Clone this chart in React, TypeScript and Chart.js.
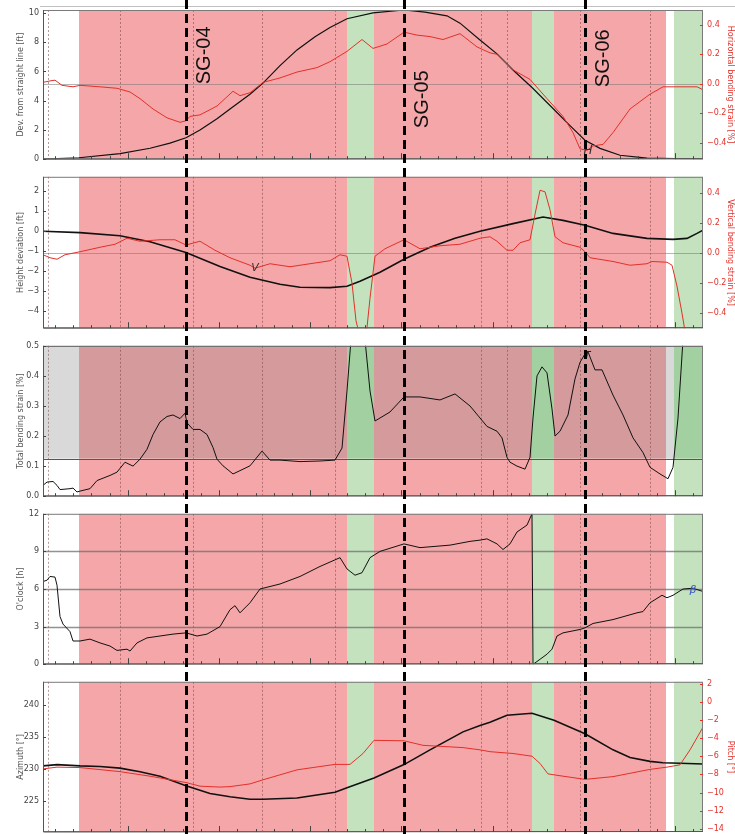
import React, { useEffect, useRef } from "react";
import { Chart, registerables } from "chart.js";

Chart.register(...registerables);
Chart.defaults.font.family = "'DejaVu Sans', sans-serif";

// ---------- shared along-pipe layout (relative chainage units) ----------
const X_MIN = 43;
const X_MAX = 703;
const zoneEdges = [43, 79, 347, 374, 532, 554, 666, 674, 703];
const zoneKinds = ["none", "red", "green", "red", "green", "red", "none", "green"];
const jointLines = [48, 120, 193, 262, 335, 481, 507, 580, 650];
const sgPositions = [186, 404, 585];
const sgLabels = ["SG-04", "SG-05", "SG-06"];
const sgLabelLevels = [7.1, 4.1, 6.9];
const xTickStart = 55;
const xTickStep = 18.23;
const xTickCount = 36;

// ---------- Panel 1: deviation from straight line / horizontal bending strain ----------
const devX = [43, 79, 120, 150, 170, 186, 200, 217, 230, 250, 263, 280, 297, 315, 330, 347, 373, 404, 425, 447, 460, 480, 497, 513, 532, 554, 570, 585, 600, 620, 647, 703];
const devY = [0, 0.1, 0.38, 0.75, 1.1, 1.47, 2.0, 2.76, 3.43, 4.44, 5.2, 6.4, 7.47, 8.37, 9.0, 9.6, 10.0, 10.2, 10.05, 9.8, 9.3, 8.15, 7.2, 6.1, 4.9, 3.4, 2.3, 1.3, 0.74, 0.27, 0.07, 0];
const hStrainX = [43, 50, 55, 62, 73, 80, 100, 117, 130, 140, 153, 167, 180, 186, 190, 200, 217, 233, 240, 250, 263, 280, 297, 317, 330, 347, 362, 373, 387, 404, 417, 430, 443, 460, 477, 490, 497, 513, 530, 547, 563, 573, 580, 587, 593, 603, 613, 630, 640, 650, 663, 680, 697, 703];
const hStrainY = [0.01, 0.02, 0.025, -0.01, -0.02, -0.01, -0.02, -0.03, -0.055, -0.1, -0.17, -0.23, -0.26, -0.25, -0.22, -0.21, -0.15, -0.05, -0.08, -0.06, 0.01, 0.04, 0.08, 0.11, 0.15, 0.22, 0.3, 0.24, 0.27, 0.35, 0.33, 0.32, 0.3, 0.34, 0.25, 0.21, 0.2, 0.095, 0.03, -0.1, -0.22, -0.33, -0.44, -0.45, -0.42, -0.41, -0.33, -0.17, -0.12, -0.07, -0.02, -0.02, -0.02, -0.04];
const p1LeftTicks = [0, 2, 4, 6, 8, 10];
const p1RightTicks = [-0.4, -0.2, 0, 0.2, 0.4];

// ---------- Panel 2: height deviation / vertical bending strain ----------
const hgtX = [43, 80, 120, 150, 186, 220, 250, 280, 300, 330, 347, 360, 380, 404, 430, 455, 480, 513, 543, 563, 585, 613, 647, 673, 687, 697, 703];
const hgtY = [0, -0.07, -0.23, -0.53, -1.07, -1.77, -2.3, -2.65, -2.8, -2.82, -2.75, -2.5, -2.05, -1.4, -0.8, -0.35, 0.0, 0.38, 0.71, 0.54, 0.3, -0.11, -0.36, -0.41, -0.36, -0.11, 0.05];
const vStrainX = [43, 50, 57, 65, 80, 100, 115, 127, 140, 160, 175, 186, 200, 215, 230, 250, 255, 270, 290, 310, 330, 340, 347, 352, 356, 360, 366, 370, 375, 385, 404, 420, 440, 460, 480, 490, 497, 507, 513, 520, 530, 535, 540, 545, 550, 555, 563, 580, 585, 590, 613, 630, 647, 652, 667, 672, 677, 682, 686];
const vStrainY = [-0.01, -0.03, -0.04, -0.01, 0.01, 0.04, 0.06, 0.1, 0.08, 0.09, 0.09, 0.055, 0.08, 0.02, -0.03, -0.08, -0.1, -0.07, -0.09, -0.07, -0.05, -0.01, -0.02, -0.2, -0.45, -0.56, -0.56, -0.3, -0.02, 0.03, 0.09, 0.03, 0.05, 0.06, 0.1, 0.11, 0.08, 0.02, 0.02, 0.07, 0.09, 0.26, 0.42, 0.41, 0.29, 0.11, 0.07, 0.04, 0.01, -0.03, -0.055, -0.08, -0.07, -0.055, -0.06, -0.08, -0.22, -0.4, -0.56];
const p2LeftTicks = [-4, -3, -2, -1, 0, 1, 2];
const p2RightTicks = [-0.4, -0.2, 0, 0.2, 0.4];

// ---------- Panel 3: total bending strain ----------
const totX = [43, 47, 53, 57, 60, 70, 73, 77, 80, 90, 97, 110, 117, 125, 133, 140, 147, 153, 160, 167, 173, 180, 185, 187, 193, 200, 207, 213, 217, 223, 233, 240, 250, 262, 270, 280, 300, 320, 335, 342, 347, 351, 365, 370, 375, 390, 404, 420, 440, 455, 470, 480, 487, 497, 502, 507, 510, 517, 525, 530, 533, 537, 542, 547, 552, 555, 560, 568, 575, 580, 585, 588, 595, 602, 613, 623, 633, 643, 650, 660, 668, 673, 678, 683];
const totY = [0.036, 0.047, 0.049, 0.036, 0.022, 0.025, 0.027, 0.014, 0.017, 0.025, 0.052, 0.069, 0.08, 0.113, 0.1, 0.123, 0.156, 0.205, 0.247, 0.265, 0.27, 0.258, 0.276, 0.244, 0.222, 0.222, 0.205, 0.162, 0.123, 0.101, 0.074, 0.085, 0.101, 0.15, 0.12, 0.12, 0.115, 0.117, 0.12, 0.16, 0.35, 0.52, 0.52, 0.35, 0.25, 0.28, 0.33, 0.33, 0.32, 0.34, 0.3, 0.26, 0.232, 0.216, 0.194, 0.129, 0.113, 0.1, 0.09, 0.129, 0.26, 0.4, 0.43, 0.41, 0.29, 0.2, 0.216, 0.27, 0.39, 0.445, 0.473, 0.48, 0.42, 0.42, 0.336, 0.27, 0.194, 0.145, 0.096, 0.074, 0.058, 0.096, 0.26, 0.52];
const p3LeftTicks = [0, 0.1, 0.2, 0.3, 0.4, 0.5];
const strainThreshold = 0.125;

// ---------- Panel 4: o'clock ----------
const clkX = [43, 47, 50, 55, 57, 60, 63, 70, 73, 80, 90, 100, 110, 117, 127, 130, 137, 147, 160, 173, 186, 197, 207, 220, 230, 235, 240, 250, 260, 280, 300, 320, 340, 347, 355, 362, 370, 380, 404, 420, 450, 470, 480, 487, 497, 503, 510, 517, 527, 532, 533, 535, 547, 552, 557, 563, 580, 585, 593, 613, 637, 643, 650, 662, 667, 673, 683, 693, 703];
const clkY = [6.6, 6.7, 7.0, 6.95, 6.3, 3.8, 3.2, 2.6, 1.85, 1.85, 2.0, 1.7, 1.45, 1.1, 1.2, 1.05, 1.7, 2.1, 2.25, 2.4, 2.5, 2.25, 2.4, 3.0, 4.35, 4.67, 4.1, 4.9, 6.0, 6.4, 7.0, 7.8, 8.5, 7.6, 7.1, 7.3, 8.5, 9.0, 9.6, 9.3, 9.5, 9.8, 9.9, 10.0, 9.6, 9.15, 9.6, 10.55, 11.1, 12, 0, 0.1, 0.8, 1.2, 2.25, 2.5, 2.77, 2.9, 3.25, 3.56, 4.1, 4.2, 4.9, 5.5, 5.3, 5.5, 6.0, 6.06, 5.8];
const p4LeftTicks = [0, 3, 6, 9, 12];

// ---------- Panel 5: azimuth / pitch ----------
const aziX = [43, 57, 80, 100, 120, 140, 160, 186, 210, 230, 250, 263, 297, 335, 347, 374, 404, 430, 463, 480, 490, 507, 532, 554, 585, 613, 630, 650, 663, 680, 703];
const aziY = [230.5, 230.7, 230.5, 230.4, 230.15, 229.6, 228.9, 227.4, 226.2, 225.7, 225.3, 225.3, 225.5, 226.4, 227.1, 228.6, 230.7, 233.0, 235.8, 236.8, 237.3, 238.4, 238.7, 237.6, 235.5, 233.0, 231.8, 231.2, 231.0, 230.9, 230.8];
const pitchX = [43, 57, 80, 120, 150, 186, 200, 220, 230, 250, 263, 297, 335, 350, 363, 374, 404, 423, 463, 480, 490, 513, 532, 540, 548, 563, 585, 613, 650, 667, 680, 690, 703];
const pitchY = [-7.4, -7.2, -7.25, -7.7, -8.2, -8.9, -9.3, -9.4, -9.35, -9.05, -8.6, -7.5, -6.9, -6.9, -5.7, -4.25, -4.3, -4.8, -5.05, -5.3, -5.5, -5.7, -6.0, -6.8, -7.95, -8.2, -8.55, -8.25, -7.45, -7.2, -6.95, -5.3, -2.8];
const p5LeftTicks = [225, 230, 235, 240];
const p5RightTicks = [2, 0, -2, -4, -6, -8, -10, -12, -14];

// ---------- styling ----------
const ZONE_FILL: Record<string, string> = { red: "rgb(245,166,168)", green: "rgb(196,226,190)" };
const ZONE_OVER: Record<string, string> = { none: "rgb(217,217,217)", red: "rgb(212,154,156)", green: "rgb(162,208,160)" };
const BLACK = "#111111";
const RED = "#e3302a";
const LEFT_W = 43;
const RIGHT_W = 32;

const minus = (s: string) => s.replace("-", "\u2212");
const fmtInt = (v: number) => minus(String(Math.round(v)));
const fmt1 = (v: number) => minus(v.toFixed(1));

type Axis = { min: number; max: number; ticks: number[]; title: string; fmt: (v: number) => string };
type Series = { xs: number[]; ys: number[]; axis: "y" | "y1"; color: string; width: number };
type Mark = { text: string; x: number; y: number; color: string; font: string };
type PanelCfg = {
  top: number; height: number; padTop: number; padBottom: number;
  left: Axis; right?: Axis;
  series: Series[];
  hLines: { axis: "y" | "y1"; value: number; color: string; width: number }[];
  threshold?: number;
  sgText?: boolean;
  topRule?: boolean;
  marks?: Mark[];
};

const panels: PanelCfg[] = [
  {
    top: 0, height: 168, padTop: 10, padBottom: 7,
    left: { min: 0, max: 10.2, ticks: p1LeftTicks, title: "Dev. from straight line [ft]", fmt: fmtInt },
    right: { min: -0.51, max: 0.5, ticks: p1RightTicks, title: "Horizontal bending strain [%]", fmt: fmt1 },
    series: [
      { xs: hStrainX, ys: hStrainY, axis: "y1", color: RED, width: 1 },
      { xs: devX, ys: devY, axis: "y", color: BLACK, width: 1.2 },
    ],
    hLines: [{ axis: "y1", value: 0, color: "rgba(120,120,120,0.55)", width: 1 }],
    sgText: true, topRule: true,
    marks: [{ text: "H", x: 588, y: 0.54, color: "#333", font: "italic 12px 'DejaVu Sans'" }],
  },
  {
    top: 168, height: 169, padTop: 8, padBottom: 8,
    left: { min: -4.85, max: 2.72, ticks: p2LeftTicks, title: "Height deviation [ft]", fmt: fmtInt },
    right: { min: -0.5, max: 0.51, ticks: p2RightTicks, title: "Vertical bending strain [%]", fmt: fmt1 },
    series: [
      { xs: vStrainX, ys: vStrainY, axis: "y1", color: RED, width: 1 },
      { xs: hgtX, ys: hgtY, axis: "y", color: BLACK, width: 1.6 },
    ],
    hLines: [{ axis: "y1", value: 0, color: "rgba(120,120,120,0.55)", width: 1 }],
    marks: [{ text: "V", x: 255, y: -1.83, color: "#333", font: "italic 11px 'DejaVu Sans'" }],
  },
  {
    top: 337, height: 168, padTop: 8, padBottom: 7,
    left: { min: 0, max: 0.5, ticks: p3LeftTicks, title: "Total bending strain [%]", fmt: fmt1 },
    series: [{ xs: totX, ys: totY, axis: "y", color: BLACK, width: 1 }],
    hLines: [
      { axis: "y", value: strainThreshold, color: "#555", width: 1 },
      { axis: "y", value: 0.5, color: "#555", width: 1.2 },
    ],
    threshold: strainThreshold,
    marks: [{ text: "T", x: 587, y: 0.467, color: "#222", font: "italic 11px 'DejaVu Sans'" }],
  },
  {
    top: 505, height: 168, padTop: 8, padBottom: 8,
    left: { min: 0, max: 12, ticks: p4LeftTicks, title: "O'clock [h]", fmt: fmtInt },
    series: [{ xs: clkX, ys: clkY, axis: "y", color: BLACK, width: 1 }],
    hLines: [3, 6, 9].map((v) => ({ axis: "y" as const, value: v, color: "rgba(110,110,110,0.75)", width: 1.4 })),
    marks: [{ text: "\u03B2", x: 693, y: 5.93, color: "#3355cc", font: "italic 11px 'DejaVu Sans'" }],
  },
  {
    top: 673, height: 170, padTop: 8, padBottom: 11,
    left: { min: 220.2, max: 243.6, ticks: p5LeftTicks, title: "Azimuth [\u00B0]", fmt: fmtInt },
    right: { min: -14.35, max: 2.2, ticks: p5RightTicks, title: "Pitch [\u00B0]", fmt: fmtInt },
    series: [
      { xs: pitchX, ys: pitchY, axis: "y1", color: RED, width: 1 },
      { xs: aziX, ys: aziY, axis: "y", color: BLACK, width: 1.6 },
    ],
    hLines: [],
  },
];

function makeAxis(ax: Axis, side: "left" | "right") {
  const isLeft = side === "left";
  return {
    type: "linear" as const,
    position: side,
    min: ax.min,
    max: ax.max,
    afterBuildTicks: (scale: any) => {
      scale.ticks = ax.ticks.map((v) => ({ value: v }));
    },
    afterFit: (scale: any) => {
      scale.width = isLeft ? LEFT_W : RIGHT_W;
    },
    grid: { display: false, drawTicks: false },
    border: { display: false },
    ticks: {
      autoSkip: false,
      padding: 4,
      color: isLeft ? "#444" : RED,
      font: { size: 8 },
      callback: (v: any) => ax.fmt(Number(v)),
    },
    title: {
      display: true,
      text: ax.title,
      color: isLeft ? "#555" : RED,
      font: { size: 8 },
      padding: isLeft ? { top: 16, bottom: 0 } : { top: 0, bottom: 0 },
    },
  };
}

function decorPlugin(cfg: PanelCfg) {
  return {
    id: "panelDecor",
    beforeDatasetsDraw(chart: any) {
      const { ctx, chartArea: a, scales } = chart;
      const xs = scales.x;
      ctx.save();
      const yT = cfg.threshold !== undefined ? scales.y.getPixelForValue(cfg.threshold) : a.top;
      for (let i = 0; i < zoneKinds.length; i++) {
        const k = zoneKinds[i];
        const x0 = xs.getPixelForValue(zoneEdges[i]);
        const x1 = xs.getPixelForValue(zoneEdges[i + 1]);
        if (k !== "none") {
          ctx.fillStyle = ZONE_FILL[k];
          ctx.fillRect(x0, yT, x1 - x0, a.bottom - yT);
        }
        if (cfg.threshold !== undefined) {
          ctx.fillStyle = ZONE_OVER[k];
          ctx.fillRect(x0, a.top, x1 - x0, yT - a.top);
        } else if (k !== "none") {
          ctx.fillStyle = ZONE_FILL[k];
          ctx.fillRect(x0, a.top, x1 - x0, yT - a.top);
        }
      }
      ctx.setLineDash([2, 2]);
      ctx.lineWidth = 0.8;
      ctx.strokeStyle = "rgba(115,60,60,0.65)";
      for (const j of jointLines) {
        const x = Math.round(xs.getPixelForValue(j)) + 0.5;
        ctx.beginPath();
        ctx.moveTo(x, a.top);
        ctx.lineTo(x, a.bottom);
        ctx.stroke();
      }
      ctx.setLineDash([]);
      for (const h of cfg.hLines) {
        const y = Math.round(scales[h.axis].getPixelForValue(h.value)) + 0.5;
        ctx.strokeStyle = h.color;
        ctx.lineWidth = h.width;
        ctx.beginPath();
        ctx.moveTo(a.left, y);
        ctx.lineTo(a.right, y);
        ctx.stroke();
      }
      ctx.restore();
    },
    afterDatasetsDraw(chart: any) {
      const { ctx, chartArea: a, scales, height } = chart;
      const xs = scales.x;
      ctx.save();
      ctx.strokeStyle = "#7a7a7a";
      ctx.lineWidth = 1;
      ctx.strokeRect(a.left + 0.5, a.top + 0.5, a.right - a.left - 1, a.bottom - a.top - 1);
      ctx.strokeStyle = "#555";
      ctx.beginPath();
      ctx.moveTo(a.left + 0.5, a.top);
      ctx.lineTo(a.left + 0.5, a.bottom);
      ctx.lineTo(a.right, a.bottom - 0.5);
      ctx.stroke();
      ctx.strokeStyle = "#444";
      for (let i = 0; i < xTickCount; i++) {
        const v = xTickStart + i * xTickStep;
        const x = Math.round(xs.getPixelForValue(v)) + 0.5;
        const len = (i - 4) % 5 === 0 ? 6 : 3;
        ctx.beginPath();
        ctx.moveTo(x, a.bottom);
        ctx.lineTo(x, a.bottom - len);
        ctx.stroke();
      }
      for (const t of cfg.left.ticks) {
        const y = Math.round(scales.y.getPixelForValue(t)) + 0.5;
        ctx.beginPath();
        ctx.moveTo(a.left, y);
        ctx.lineTo(a.left + 3, y);
        ctx.stroke();
      }
      if (cfg.right) {
        ctx.strokeStyle = RED;
        for (const t of cfg.right.ticks) {
          const y = Math.round(scales.y1.getPixelForValue(t)) + 0.5;
          ctx.beginPath();
          ctx.moveTo(a.right - 3, y);
          ctx.lineTo(a.right, y);
          ctx.stroke();
        }
      }
      if (cfg.topRule) {
        ctx.strokeStyle = "rgba(150,150,150,0.6)";
        ctx.beginPath();
        ctx.moveTo(a.left - 3, a.top - 3.5);
        ctx.lineTo(chart.width, a.top - 3.5);
        ctx.stroke();
      }
      for (const m of cfg.marks || []) {
        ctx.fillStyle = m.color;
        ctx.font = m.font;
        ctx.textAlign = "center";
        ctx.textBaseline = "middle";
        ctx.fillText(m.text, xs.getPixelForValue(m.x), scales.y.getPixelForValue(m.y));
      }
      ctx.strokeStyle = "#000";
      ctx.lineWidth = 3;
      ctx.setLineDash([9, 5]);
      ctx.lineDashOffset = cfg.top % 14;
      for (const s of sgPositions) {
        const x = Math.round(xs.getPixelForValue(s)) + 0.5;
        ctx.beginPath();
        ctx.moveTo(x, 0);
        ctx.lineTo(x, height);
        ctx.stroke();
      }
      ctx.setLineDash([]);
      if (cfg.sgText) {
        ctx.fillStyle = "#111";
        ctx.font = "20px 'Liberation Sans', Arial, sans-serif";
        ctx.textAlign = "center";
        ctx.textBaseline = "middle";
        sgPositions.forEach((s, i) => {
          const x = xs.getPixelForValue(s) + 18;
          const y = scales.y.getPixelForValue(sgLabelLevels[i]);
          ctx.save();
          ctx.translate(x, y);
          ctx.rotate(-Math.PI / 2);
          ctx.fillText(sgLabels[i], 0, 0);
          ctx.restore();
        });
      }
      ctx.restore();
    },
  };
}

function Panel({ cfg }: { cfg: PanelCfg }) {
  const ref = useRef<HTMLCanvasElement | null>(null);
  useEffect(() => {
    if (!ref.current) return;
    const scales: any = {
      x: { type: "linear", min: X_MIN, max: X_MAX, display: false },
      y: makeAxis(cfg.left, "left"),
    };
    if (cfg.right) scales.y1 = makeAxis(cfg.right, "right");
    const chart = new Chart(ref.current, {
      type: "line",
      data: {
        datasets: cfg.series.map((s) => ({
          data: s.xs.map((x, i) => ({ x, y: s.ys[i] })),
          yAxisID: s.axis,
          borderColor: s.color,
          borderWidth: s.width,
          pointRadius: 0,
          tension: 0,
          fill: false,
        })),
      },
      options: {
        animation: false,
        responsive: false,
        devicePixelRatio: 1,
        parsing: false,
        normalized: true,
        layout: { padding: { top: cfg.padTop, bottom: cfg.padBottom, left: 0, right: cfg.right ? 0 : RIGHT_W } },
        plugins: { legend: { display: false }, tooltip: { enabled: false } },
        events: [],
        scales,
      },
      plugins: [decorPlugin(cfg)],
    } as any);
    return () => chart.destroy();
  }, [cfg]);
  return (
    <canvas
      ref={ref}
      width={735}
      height={cfg.height}
      style={{ position: "absolute", left: 0, top: cfg.top, width: 735, height: cfg.height }}
    />
  );
}

export default function App() {
  return (
    <div style={{ position: "fixed", left: 0, top: 0, width: 735, height: 834, overflow: "hidden", background: "#fff" }}>
      {panels.map((p, i) => (
        <Panel key={i} cfg={p} />
      ))}
    </div>
  );
}
